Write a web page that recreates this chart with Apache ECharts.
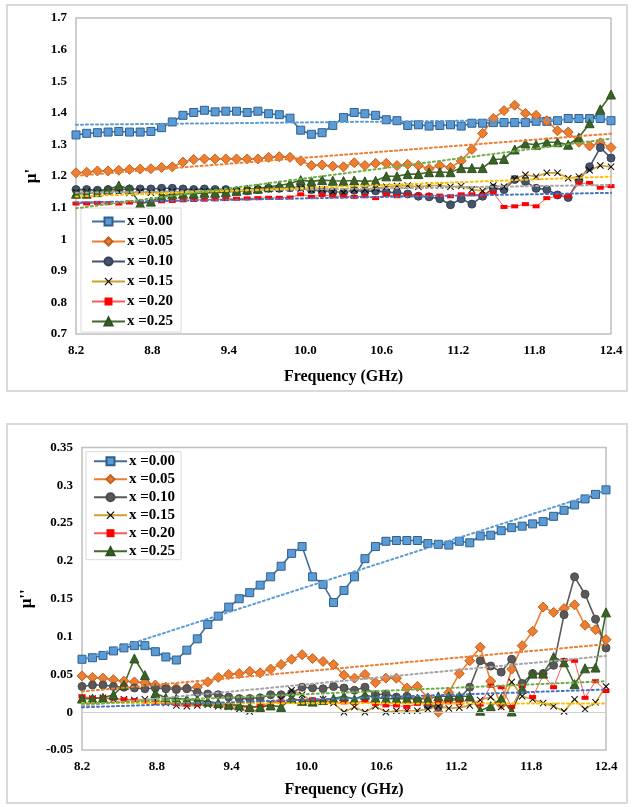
<!DOCTYPE html>
<html>
<head>
<meta charset="utf-8">
<title>Permeability vs frequency</title>
<script src="https://cdn.jsdelivr.net/npm/echarts@6/dist/echarts.min.js"></script>
<style>
  html, body { margin: 0; padding: 0; background: #ffffff; }
  #muReal { position: absolute; left: 0; top: 0; width: 632px; height: 405px; }
  #muImag { position: absolute; left: 0; top: 405px; width: 632px; height: 402px; }
</style>
</head>
<body>
<div id="muReal"></div>
<div id="muImag"></div>
<script>
// Measurement frequencies (GHz), X band
const freqGHz = [
  8.200, 8.284, 8.368, 8.452, 8.536, 8.620, 8.704, 8.788, 8.872, 8.956,
  9.040, 9.124, 9.208, 9.292, 9.376, 9.460, 9.544, 9.628, 9.712, 9.796,
  9.880, 9.964, 10.048, 10.132, 10.216, 10.300, 10.384, 10.468, 10.552, 10.636,
  10.720, 10.804, 10.888, 10.972, 11.056, 11.140, 11.224, 11.308, 11.392, 11.476,
  11.560, 11.644, 11.728, 11.812, 11.896, 11.980, 12.064, 12.148, 12.232, 12.316,
  12.400
];

const sampleNames = ['x =0.00', 'x =0.05', 'x =0.10', 'x =0.15', 'x =0.20', 'x =0.25'];
const xTickLabels = ['8.2', '8.8', '9.4', '10.0', '10.6', '11.2', '11.8', '12.4'];

// Real part of permeability, mu'
const muReal000 = [1.330,1.335,1.337,1.339,1.341,1.339,1.339,1.341,1.353,1.371,1.392,1.401,1.408,1.403,1.405,1.405,1.401,1.405,1.397,1.394,1.383,1.345,1.332,1.337,1.360,1.385,1.401,1.397,1.392,1.378,1.375,1.360,1.362,1.358,1.360,1.362,1.358,1.367,1.367,1.369,1.369,1.369,1.369,1.373,1.373,1.375,1.382,1.382,1.382,1.382,1.375];
const muReal005 = [1.210,1.212,1.216,1.216,1.218,1.221,1.222,1.223,1.227,1.229,1.244,1.252,1.254,1.254,1.254,1.254,1.254,1.254,1.259,1.261,1.259,1.248,1.233,1.235,1.231,1.229,1.242,1.233,1.240,1.240,1.233,1.237,1.233,1.223,1.233,1.227,1.248,1.284,1.335,1.382,1.407,1.424,1.398,1.392,1.375,1.343,1.339,1.307,1.295,1.305,1.290];
const muReal010 = [1.157,1.157,1.155,1.157,1.157,1.159,1.159,1.159,1.161,1.161,1.159,1.157,1.159,1.157,1.157,1.153,1.153,1.157,1.161,1.161,1.163,1.165,1.157,1.152,1.150,1.147,1.155,1.151,1.153,1.149,1.147,1.143,1.136,1.134,1.128,1.109,1.128,1.111,1.136,1.161,1.157,1.189,1.183,1.161,1.157,1.140,1.132,1.187,1.229,1.290,1.257];
const muReal015 = [1.148,1.150,1.147,1.149,1.152,1.146,1.150,1.147,1.149,1.151,1.148,1.150,1.152,1.150,1.153,1.151,1.154,1.156,1.158,1.160,1.162,1.160,1.156,1.158,1.150,1.147,1.157,1.157,1.161,1.166,1.168,1.170,1.166,1.170,1.170,1.166,1.168,1.157,1.153,1.170,1.166,1.191,1.204,1.198,1.210,1.210,1.193,1.198,1.218,1.233,1.229];
const muReal020 = [1.113,1.113,1.115,1.114,1.113,1.116,1.117,1.118,1.120,1.121,1.123,1.124,1.125,1.126,1.127,1.128,1.129,1.130,1.131,1.131,1.132,1.142,1.134,1.140,1.136,1.136,1.134,1.136,1.130,1.140,1.136,1.140,1.140,1.140,1.138,1.136,1.142,1.142,1.140,1.147,1.102,1.104,1.111,1.104,1.130,1.136,1.136,1.176,1.178,1.163,1.168];
const muReal025 = [1.144,1.144,1.149,1.157,1.170,1.159,1.113,1.119,1.136,1.142,1.144,1.144,1.147,1.147,1.149,1.153,1.157,1.160,1.166,1.170,1.176,1.187,1.183,1.187,1.185,1.184,1.186,1.183,1.185,1.199,1.199,1.206,1.206,1.212,1.212,1.212,1.225,1.225,1.225,1.252,1.254,1.284,1.303,1.299,1.307,1.307,1.299,1.322,1.367,1.411,1.458];

// Imaginary part of permeability, mu''
const muImag000 = [0.070,0.072,0.075,0.081,0.085,0.088,0.088,0.080,0.073,0.069,0.082,0.097,0.116,0.127,0.139,0.150,0.158,0.168,0.179,0.193,0.210,0.219,0.179,0.169,0.145,0.161,0.179,0.203,0.219,0.226,0.227,0.227,0.227,0.223,0.222,0.221,0.226,0.224,0.233,0.234,0.240,0.244,0.246,0.249,0.252,0.259,0.267,0.274,0.282,0.288,0.294];
const muImag005 = [0.048,0.046,0.045,0.043,0.041,0.040,0.039,0.036,0.033,0.032,0.032,0.033,0.040,0.046,0.050,0.051,0.054,0.052,0.057,0.063,0.070,0.076,0.071,0.067,0.063,0.049,0.045,0.050,0.039,0.045,0.045,0.032,0.034,0.019,0.000,0.026,0.051,0.068,0.086,0.041,0.010,0.057,0.088,0.107,0.139,0.132,0.137,0.142,0.115,0.109,0.096];
const muImag010 = [0.034,0.036,0.036,0.034,0.033,0.032,0.031,0.032,0.031,0.030,0.031,0.026,0.024,0.023,0.020,0.018,0.018,0.019,0.023,0.023,0.025,0.033,0.032,0.031,0.034,0.032,0.029,0.033,0.023,0.024,0.020,0.021,0.016,0.009,0.007,0.017,0.018,0.033,0.068,0.061,0.053,0.070,0.038,0.051,0.051,0.062,0.129,0.179,0.156,0.123,0.085];
const muImag015 = [0.019,0.018,0.019,0.017,0.017,0.016,0.017,0.016,0.012,0.009,0.008,0.009,0.010,0.008,0.007,0.004,0.001,0.004,0.012,0.017,0.029,0.023,0.014,0.017,0.012,0.000,0.007,0.000,0.008,0.000,0.002,0.002,0.002,0.004,0.008,0.005,0.006,0.009,0.016,0.020,0.007,0.040,0.021,0.017,0.012,0.008,0.001,0.017,0.004,0.013,0.034];
const muImag020 = [0.021,0.019,0.019,0.018,0.017,0.016,0.014,0.012,0.012,0.011,0.010,0.010,0.011,0.009,0.008,0.006,0.006,0.009,0.012,0.014,0.016,0.015,0.017,0.015,0.013,0.013,0.012,0.015,0.011,0.009,0.009,0.007,0.011,0.012,0.013,0.013,0.012,0.017,0.010,0.035,0.033,0.007,0.034,0.020,0.049,0.033,0.069,0.068,0.019,0.041,0.028];
const muImag025 = [0.018,0.018,0.019,0.023,0.036,0.071,0.049,0.025,0.019,0.018,0.017,0.016,0.014,0.012,0.010,0.009,0.007,0.007,0.009,0.007,0.018,0.015,0.014,0.016,0.018,0.021,0.017,0.023,0.019,0.018,0.018,0.018,0.018,0.018,0.021,0.021,0.021,0.021,0.002,0.008,0.018,0.001,0.031,0.051,0.051,0.073,0.066,0.037,0.058,0.059,0.132];

const serifBold = { fontFamily: 'Liberation Serif', fontWeight: 'bold', color: '#000000' };
const crossPath = 'path://M1,0L5,4L9,0L10,1L6,5L10,9L9,10L5,6L1,10L0,9L4,5L0,1Z';

// Marker/line look of each composition
function sampleStyles(panel) {
  const x010 = panel === 'real'
    ? { line: '#44546A', fill: '#44546A', border: '#35425A' }
    : { line: '#595959', fill: '#595959', border: '#4a4a4a' };
  return [
    { symbol: 'rect', size: 8, line: '#3E6E9E', lw: 1.6, fill: '#5B9BD5', border: '#2F5F8F', bw: 1 },
    { symbol: 'diamond', size: 10, line: '#ED7D31', lw: 1.6, fill: '#ED7D31', border: '#C06020', bw: 1 },
    { symbol: 'circle', size: 8, line: x010.line, lw: 1.6, fill: x010.fill, border: x010.border, bw: 1 },
    { symbol: crossPath, size: 7, line: '#CFA12A', lw: 1.6, fill: '#000000', border: '#000000', bw: 0 },
    { symbol: 'rect', size: [7, 4], line: '#FF5A5A', lw: 1, fill: '#FF0000', border: '#FF0000', bw: 0 },
    { symbol: 'triangle', size: 9, line: '#3F6A2A', lw: 1.6, fill: '#3A6126', border: '#2F5020', bw: 1 }
  ];
}
const trendColors = ['#5B9BD5', '#ED7D31', '#A5A5A5', '#FFC000', '#4472C4', '#70AD47'];

// Least-squares straight line through one data set, evaluated at both axis ends
function linearTrend(values) {
  const n = freqGHz.length;
  let sx = 0, sy = 0, sxx = 0, sxy = 0;
  for (let i = 0; i < n; i++) {
    sx += freqGHz[i]; sy += values[i];
    sxx += freqGHz[i] * freqGHz[i]; sxy += freqGHz[i] * values[i];
  }
  const b = (n * sxy - sx * sy) / (n * sxx - sx * sx);
  const a = (sy - b * sx) / n;
  const x0 = freqGHz[0], x1 = freqGHz[n - 1];
  return [[x0, a + b * x0], [x1, a + b * x1]];
}

function buildOption(cfg) {
  const styles = sampleStyles(cfg.panel);
  const series = [];
  cfg.data.forEach((vals, k) => {
    series.push({
      type: 'line',
      name: sampleNames[k],
      data: freqGHz.map((f, i) => [f, vals[i]]),
      symbol: styles[k].symbol,
      symbolSize: styles[k].size,
      showAllSymbol: true,
      lineStyle: { color: styles[k].line, width: styles[k].lw },
      itemStyle: { color: styles[k].fill, borderColor: styles[k].border, borderWidth: styles[k].bw },
      emphasis: { disabled: true },
      z: 3
    });
  });
  cfg.data.forEach((vals, k) => {
    series.push({
      type: 'line',
      name: 'trend ' + sampleNames[k],
      data: linearTrend(vals),
      showSymbol: false,
      silent: true,
      lineStyle: { color: trendColors[k], width: 2, type: [2, 3], cap: 'round' },
      z: 4
    });
  });
  if (cfg.zeroLine) {
    series[0].markLine = {
      silent: true, symbol: 'none', label: { show: false },
      lineStyle: { color: '#d0d0d0', type: 'solid', width: 1 },
      data: [{ yAxis: 0 }]
    };
  }
  return {
    animation: false,
    backgroundColor: '#ffffff',
    graphic: [{
      type: 'rect', silent: true, z: -10,
      shape: cfg.frame,
      style: { fill: 'none', stroke: '#d9d9d9', lineWidth: 2 }
    }],
    grid: {
      left: cfg.grid.left, top: cfg.grid.top, width: cfg.grid.width, height: cfg.grid.height,
      show: true, borderColor: '#bfbfbf', borderWidth: 1.5, backgroundColor: 'transparent',
      containLabel: false
    },
    legend: {
      data: sampleNames,
      orient: 'vertical',
      left: cfg.legend.left, top: cfg.legend.top,
      padding: cfg.legend.padding,
      itemGap: cfg.legend.gap,
      itemWidth: 33, itemHeight: 10,
      backgroundColor: '#ffffff',
      borderColor: '#d9d9d9', borderWidth: 1,
      selectedMode: false,
      textStyle: Object.assign({ fontSize: 15, lineHeight: 15, padding: [0, 0, 0, -3] }, serifBold)
    },
    xAxis: {
      type: 'value', min: 8.2, max: 12.4, interval: 0.2,
      name: 'Frequency (GHz)', nameLocation: 'middle', nameGap: cfg.xNameGap,
      nameTextStyle: Object.assign({ fontSize: 16 }, serifBold),
      axisLine: { show: false }, axisTick: { show: false }, splitLine: { show: false },
      axisLabel: Object.assign({
        fontSize: 13, margin: 10,
        formatter: v => (xTickLabels.indexOf(v.toFixed(1)) >= 0 ? v.toFixed(1) : '')
      }, serifBold)
    },
    yAxis: {
      type: 'value', min: cfg.y.min, max: cfg.y.max, interval: cfg.y.interval,
      name: cfg.y.name, nameLocation: 'middle', nameGap: cfg.y.nameGap, nameRotate: 90,
      nameTextStyle: Object.assign({ fontSize: 17 }, serifBold),
      axisLine: { show: false }, axisTick: { show: false }, splitLine: { show: false },
      axisLabel: Object.assign({ fontSize: 13, margin: 9 }, serifBold)
    },
    series: series
  };
}

const realChart = echarts.init(document.getElementById('muReal'), null, { renderer: 'canvas' });
realChart.setOption(buildOption({
  panel: 'real',
  data: [muReal000, muReal005, muReal010, muReal015, muReal020, muReal025],
  frame: { x: 7, y: 5, width: 620, height: 386 },
  grid: { left: 76, top: 18, width: 535, height: 316 },
  legend: { left: 81, top: 208, padding: [6, 8, 3, 10], gap: 5 },
  xNameGap: 35,
  y: { min: 0.7, max: 1.7, interval: 0.1, name: "\u03BC'", nameGap: 30 }
}));

const imagChart = echarts.init(document.getElementById('muImag'), null, { renderer: 'canvas' });
imagChart.setOption(buildOption({
  panel: 'imag',
  data: [muImag000, muImag005, muImag010, muImag015, muImag020, muImag025],
  frame: { x: 7, y: 19, width: 620, height: 379 },
  grid: { left: 82, top: 42.5, width: 524, height: 302.5 },
  legend: { left: 86, top: 46.7, padding: [2, 6, 1, 7], gap: 3 },
  xNameGap: 32,
  zeroLine: true,
  y: { min: -0.05, max: 0.35, interval: 0.05, name: "\u03BC''", nameGap: 36 }
}));
</script>
</body>
</html>
